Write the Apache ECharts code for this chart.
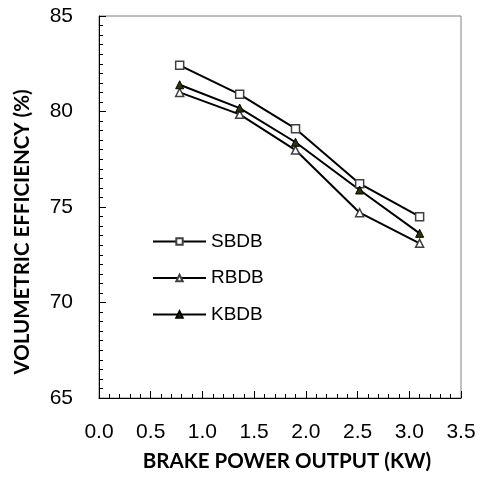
<!DOCTYPE html>
<html>
<head>
<meta charset="utf-8">
<script src="https://cdn.jsdelivr.net/npm/echarts@6/dist/echarts.min.js"></script>
<style>html,body{margin:0;padding:0;background:#fff;}#c{width:486px;height:484px;}</style>
</head>
<body>
<div id="c"></div>
<script>
const power = [0.78, 1.36, 1.90, 2.52, 3.10];
const sbdb = [82.42, 80.90, 79.10, 76.22, 74.49];
const rbdb = [81.00, 79.85, 77.98, 74.70, 73.10];
const kbdb = [81.40, 80.18, 78.39, 75.89, 73.62];
const seriesNames = ['SBDB', 'RBDB', 'KBDB'];

const chart = echarts.init(document.getElementById('c'));
function pts(ys){ return power.map((x,i)=>[x, ys[i]]); }
const lineStyle = {color:'#000', width:2};
const sans = '"Liberation Sans", Arial, sans-serif';
chart.setOption({
  animation:false,
  backgroundColor:'#fff',
  grid:{left:99, right:25, top:16, bottom:86, show:true, borderColor:'#808080', borderWidth:1, containLabel:false},
  legend:{
    orient:'vertical', left:147, top:226, itemWidth:53, itemHeight:8, itemGap:15.5,
    textStyle:{fontFamily:sans, fontSize:19, color:'#000', lineHeight:21},
    data:seriesNames
  },
  xAxis:{
    type:'value', min:0, max:3.5, interval:0.5,
    axisLine:{show:true, lineStyle:{color:'#000', width:1}},
    axisTick:{show:true, inside:true, length:7, lineStyle:{color:'#000'}},
    minorTick:{show:true, splitNumber:5, length:4, lineStyle:{color:'#000'}},
    splitLine:{show:false},
    axisLabel:{fontFamily:sans, fontSize:21, color:'#000', margin:24, formatter:v=>v.toFixed(1)},
    name:'BRAKE POWER OUTPUT (KW)', nameLocation:'middle', nameGap:53,
    nameTextStyle:{fontFamily:'Lato', fontWeight:'bold', fontSize:20.5, color:'#000', padding:[0,0,0,14]}
  },
  yAxis:{
    type:'value', min:65, max:85, interval:5,
    axisLine:{show:true, lineStyle:{color:'#000', width:1}},
    axisTick:{show:true, inside:true, length:7, lineStyle:{color:'#000'}},
    minorTick:{show:true, splitNumber:10, length:4, lineStyle:{color:'#000'}},
    splitLine:{show:false},
    axisLabel:{fontFamily:sans, fontSize:21, color:'#000', margin:26},
    name:'VOLUMETRIC EFFICIENCY (%)', nameLocation:'middle', nameGap:66,
    nameTextStyle:{fontFamily:'Lato', fontWeight:'bold', fontSize:20.5, color:'#000', padding:[0,50,0,0]}
  },
  series:[
    {name:'SBDB', type:'line', data:pts(sbdb), symbol:'rect', symbolSize:8,
     itemStyle:{color:'#fff', borderColor:'#404040', borderWidth:1.5}, lineStyle:lineStyle},
    {name:'RBDB', type:'line', data:pts(rbdb), symbol:'triangle', symbolSize:8,
     itemStyle:{color:'#fff', borderColor:'#404040', borderWidth:1.5}, lineStyle:lineStyle},
    {name:'KBDB', type:'line', data:pts(kbdb), symbol:'triangle', symbolSize:8,
     itemStyle:{color:'#333300', borderColor:'#000', borderWidth:1}, lineStyle:lineStyle}
  ]
});
</script>
</body>
</html>
